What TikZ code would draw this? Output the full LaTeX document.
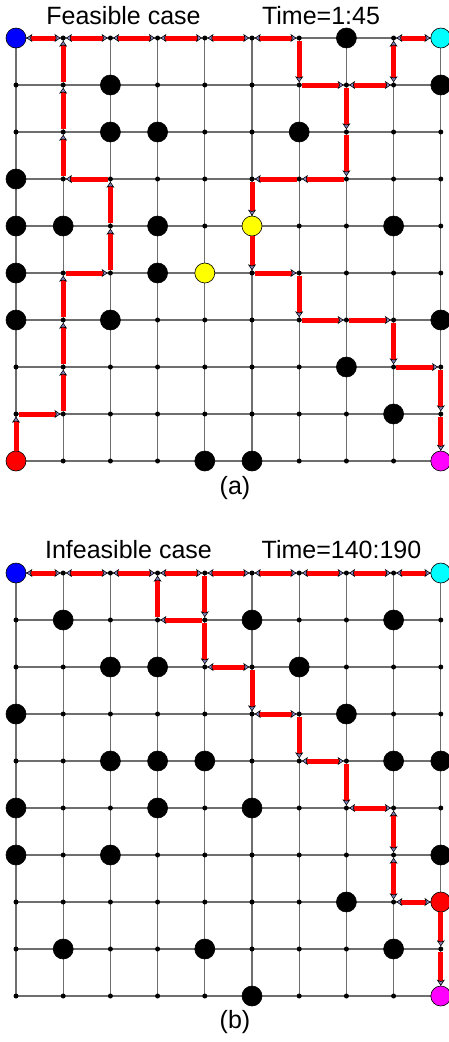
\documentclass[tikz,border=0pt]{standalone}
\usepackage{fontspec}
\setmainfont{Liberation Sans}
\usetikzlibrary{arrows.meta,backgrounds}
\definecolor{tipfill}{HTML}{8C8CC8}
\definecolor{gridgray}{HTML}{6E6E6E}
\definecolor{startblue}{RGB}{0,0,255}
\definecolor{goalcyan}{RGB}{0,255,255}
\definecolor{startred}{RGB}{255,0,0}
\definecolor{goalmagenta}{RGB}{255,0,255}
\definecolor{wayyellow}{RGB}{255,255,0}

\begin{document}
\begin{tikzpicture}[x=1pt, y=-1pt,
  dot/.style={circle, fill=black, inner sep=0pt, minimum size=5pt},
  blob/.style={circle, draw=black, line width=0.6pt, fill=black, inner sep=0pt, minimum size=20pt},
  gline/.style={gridgray, line width=1.1pt},
  one/.style={-{Stealth[length=6pt, width=8pt, inset=1.5pt, line width=0.6pt, color=black, fill=tipfill]}, startred, line width=5pt},
  two/.style={{Stealth[length=6pt, width=8pt, inset=1.5pt, line width=0.6pt, color=black, fill=tipfill]}-{Stealth[length=6pt, width=8pt, inset=1.5pt, line width=0.6pt, color=black, fill=tipfill]}, startred, line width=5pt},
  lbl/.style={font=\fontsize{25}{30}\selectfont, anchor=base, inner sep=0pt}
]
  \useasboundingbox (0,0) rectangle (449,1042);

  % grid points
  \foreach \r in {0,...,9}
    \foreach \c in {0,...,9} {
      \node[dot] (a-\r-\c) at ({16+47.2*\c},{38+47*\r}) {};
      \node[dot] (b-\r-\c) at ({16+47.2*\c},{573+47*\r}) {};
    }

  % grid lines
  \begin{scope}[on background layer]
    \foreach \i in {0,...,9} {
      \draw[gline] (a-\i-0.center) -- (a-\i-9.center);
      \draw[gline] (a-0-\i.center) -- (a-9-\i.center);
      \draw[gline] (b-\i-0.center) -- (b-\i-9.center);
      \draw[gline] (b-0-\i.center) -- (b-9-\i.center);
    }
  \end{scope}

  % obstacles
  \foreach \r/\c in {1/2,2/2,2/3,3/0,4/0,4/1,4/3,5/0,5/3,6/0,6/2,0/7,1/9,2/6,4/8,6/9,7/7,8/8,9/4,9/5}
    \node[blob] (a-\r-\c) at (a-\r-\c) {};
  \foreach \r/\c in {1/1,1/5,1/8,2/2,2/3,2/6,3/0,3/7,4/2,4/3,4/4,4/8,4/9,5/0,5/3,5/5,6/0,6/2,6/9,7/7,8/1,8/4,8/8,9/5}
    \node[blob] (b-\r-\c) at (b-\r-\c) {};

  % start, goal and way points
  \node[blob, fill=startblue] (a-0-0) at (a-0-0) {};
  \node[blob, fill=goalcyan] (a-0-9) at (a-0-9) {};
  \node[blob, fill=startred] (a-9-0) at (a-9-0) {};
  \node[blob, fill=goalmagenta] (a-9-9) at (a-9-9) {};
  \node[blob, fill=wayyellow] (a-4-5) at (a-4-5) {};
  \node[blob, fill=wayyellow] (a-5-4) at (a-5-4) {};
  \node[blob, fill=startblue] (b-0-0) at (b-0-0) {};
  \node[blob, fill=goalcyan] (b-0-9) at (b-0-9) {};
  \node[blob, fill=startred] (b-7-9) at (b-7-9) {};
  \node[blob, fill=goalmagenta] (b-9-9) at (b-9-9) {};

  % path (a)
  \foreach \p/\q in {9-0/8-0,8-0/8-1,8-1/7-1,7-1/6-1,6-1/5-1,5-1/5-2,5-2/4-2,4-2/3-2,3-2/3-1,3-1/2-1,2-1/1-1,1-1/0-1,
                     0-6/1-6,1-6/1-7,1-7/2-7,2-7/3-7,3-7/3-6,3-6/3-5,3-5/4-5,4-5/5-5,5-5/5-6,5-6/6-6,6-6/6-7,6-7/6-8,6-8/7-8,7-8/7-9,7-9/8-9,8-9/9-9}
    \draw[one] (a-\p) -- (a-\q);
  \foreach \p/\q in {0-0/0-1,0-1/0-2,0-2/0-3,0-3/0-4,0-4/0-5,0-5/0-6,1-7/1-8,1-8/0-8,0-8/0-9}
    \draw[two] (a-\p) -- (a-\q);

  % path (b)
  \foreach \p/\q in {0-4/1-4,1-4/1-3,1-3/0-3,1-4/2-4,2-5/3-5,3-6/4-6,4-7/5-7,7-9/8-9,8-9/9-9}
    \draw[one] (b-\p) -- (b-\q);
  \foreach \p/\q in {0-0/0-1,0-1/0-2,0-2/0-3,0-3/0-4,0-4/0-5,0-5/0-6,0-6/0-7,0-7/0-8,0-8/0-9,
                     2-4/2-5,3-5/3-6,4-6/4-7,5-7/5-8,5-8/6-8,6-8/7-8,7-8/7-9}
    \draw[two] (b-\p) -- (b-\q);

  % titles
  \node[lbl] (ttla) at (123.5,24) {Feasible case};
  \node[lbl] (tima) at (321,24) {Time=1:45};
  \node[lbl] (capa) at (235,494) {(a)};
  \node[lbl] (ttlb) at (128.5,558) {Infeasible case};
  \node[lbl] (timb) at (341.5,558) {Time=140:190};
  \node[lbl] (capb) at (235,1028) {(b)};
\end{tikzpicture}
\end{document}
